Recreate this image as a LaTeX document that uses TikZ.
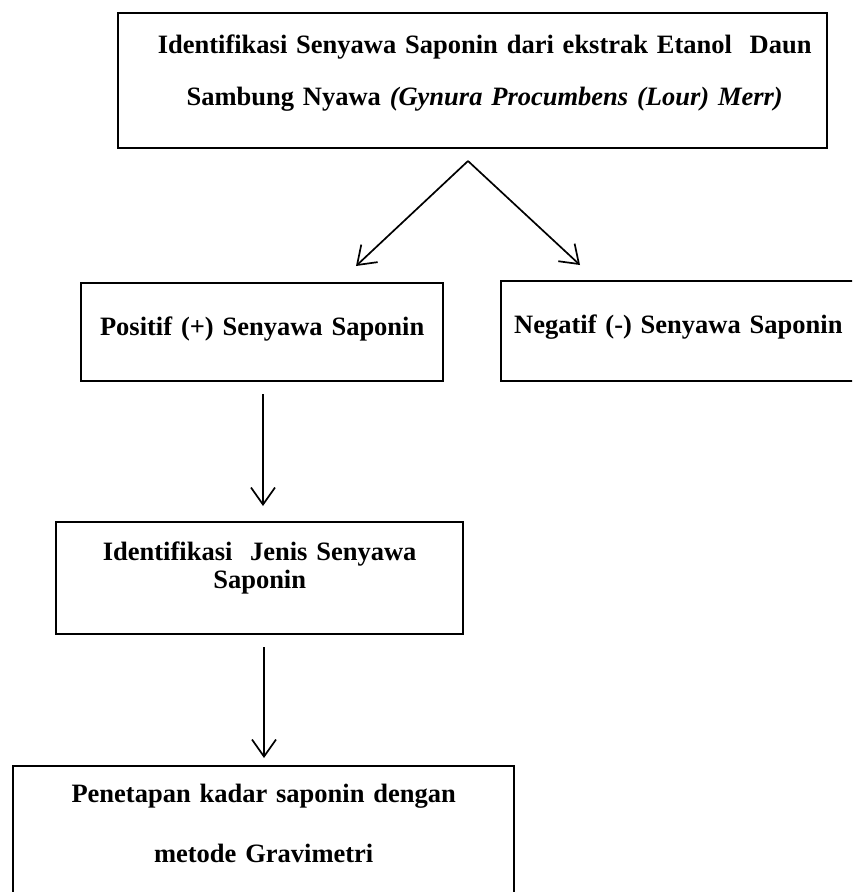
\documentclass[tikz,border=0pt]{standalone}
\usepackage{fontspec}
\setmainfont{Liberation Serif}
\usetikzlibrary{arrows.meta}
\tikzset{
  box/.style={draw, line width=2.4pt, inner sep=0pt, anchor=north west, align=center},
  flow/.style={line width=1.7pt, -{Straight Barb[length=17pt,width=24pt]}}
}
\begin{document}
\begin{tikzpicture}[x=1pt,y=-1pt]
  \clip (0,0) rectangle (852,892);
  % boxes
  \node[box, text width=709pt, text height=40pt, text depth=95pt, font=\fontsize{26.5}{52}\selectfont\bfseries] (start) at (117,12)
    {\hspace*{24pt}Identifikasi Senyawa Saponin dari ekstrak Etanol~ Daun\\
     \hspace*{24pt}Sambung Nyawa \textit{(Gynura Procumbens (Lour) Merr)}};
  \node[box, text width=362pt, text height=52pt, text depth=46pt, font=\fontsize{26.5}{30}\selectfont\bfseries] (pos) at (80,282)
    {Positif (+) Senyawa Saponin};
  \node[box, inner xsep=13pt, align=left, text width=374pt, text height=52pt, text depth=48pt, font=\fontsize{26.5}{30}\selectfont\bfseries] (neg) at (500,280)
    {Negatif (-) Senyawa Saponin};
  \node[box, text width=407pt, text height=38pt, text depth=74pt, font=\fontsize{26.5}{28}\selectfont\bfseries] (jenis) at (55,521)
    {Identifikasi~ Jenis Senyawa\\ Saponin};
  \node[box, text width=501pt, text height=36pt, text depth=109pt, font=\fontsize{26.5}{60}\selectfont\bfseries] (kadar) at (12,765)
    {Penetapan kadar saponin dengan\\ metode Gravimetri};
  % arrows
  \coordinate (fork) at (468,161);
  \coordinate (posin) at (356,266);
  \coordinate (negin) at (580,265);
  \coordinate (a1) at (263,394);
  \coordinate (b1) at (263,506);
  \coordinate (a2) at (264,647);
  \coordinate (b2) at (264,758);
  \draw[flow] (fork) -- (posin);
  \draw[flow] (fork) -- (negin);
  \draw[flow] (a1) -- (b1);
  \draw[flow] (a2) -- (b2);
\end{tikzpicture}
\end{document}
